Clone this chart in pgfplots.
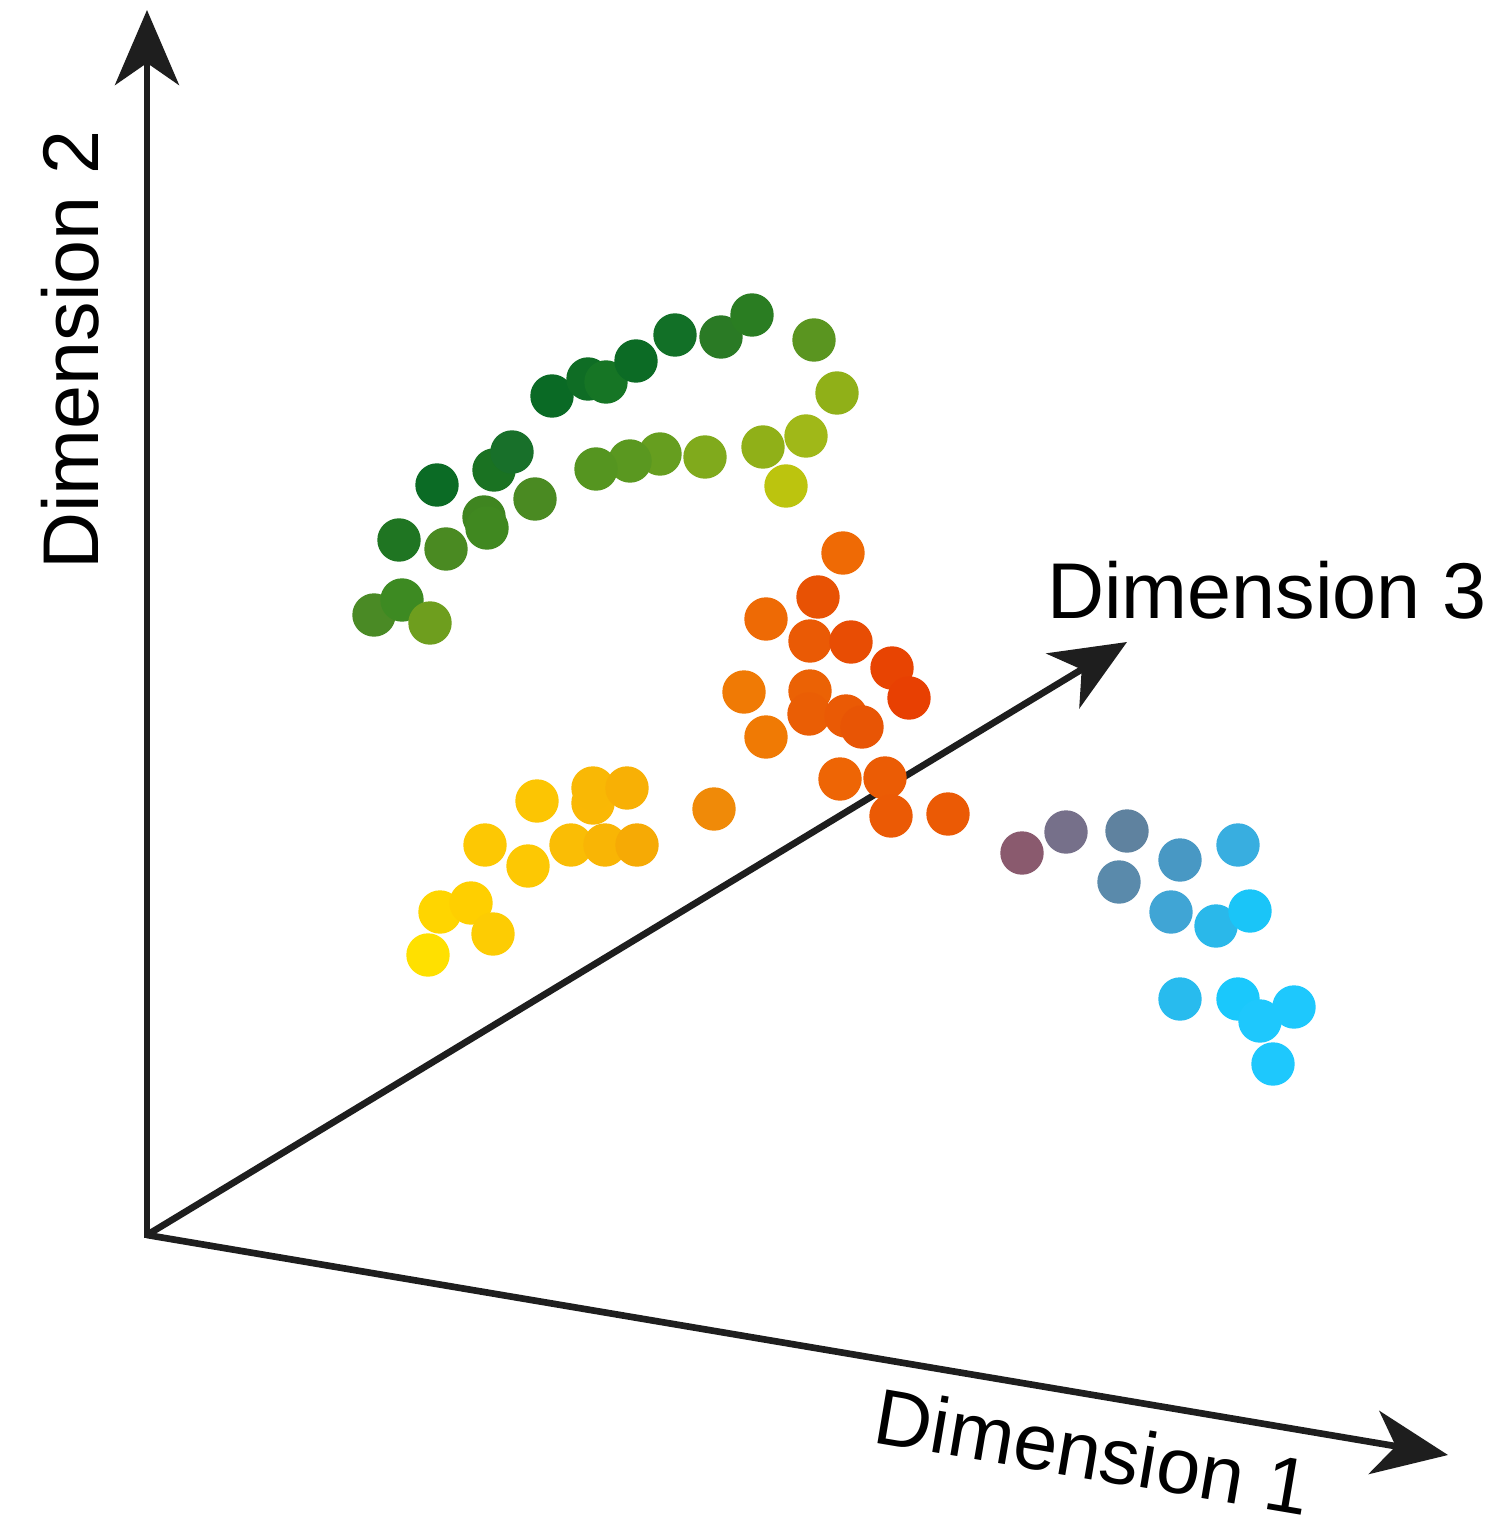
\documentclass[border=0pt]{standalone}
\usepackage{fontspec}
\setmainfont{Liberation Sans}
\usepackage{pgfplots}
\usepackage{pgfplotstable}
\pgfplotsset{compat=1.18}
\usetikzlibrary{arrows.meta}
\definecolor{axdark}{RGB}{30,30,30}
% x y in pixel coordinates (y downward); c = position of the dot's colour in the colour list
\pgfplotstableread{
x y c
374 615 0
402 600 1
430 623 2
399 540 3
446 549 4
437 485 5
484 517 6
487 528 7
535 499 8
494 470 9
512 452 10
552 396 11
588 379 12
606 382 13
636 361 14
675 335 15
721 337 16
752 315 17
814 340 18
837 393 19
806 436 20
763 447 21
786 486 22
705 457 23
660 454 24
630 461 25
596 469 26
}\greens
\pgfplotstableread{
x y c
537 801 27
593 803 28
593 788 29
627 788 30
485 845 31
571 845 32
605 845 33
637 845 34
528 866 35
440 912 36
471 903 37
493 934 38
428 955 39
}\yellows
\pgfplotstableread{
x y c
843 553 40
818 597 41
766 619 42
810 641 43
851 642 44
892 668 45
909 698 46
744 692 47
810 691 48
809 714 49
846 716 50
862 727 51
766 737 52
840 779 53
885 778 54
891 816 55
948 814 56
714 809 57
}\oranges
\pgfplotstableread{
x y c
1022 853 58
1066 832 59
1127 831 60
1119 882 61
1180 860 62
1238 845 63
1171 912 64
1216 926 65
1250 911 66
1180 999 67
1238 999 68
1260 1021 69
1294 1007 70
1273 1064 71
}\blues
\pgfplotsset{
  dots/.style={scatter, only marks, mark=*, mark size=2.1mm,
    point meta=explicit,
    scatter/use mapped color={draw=mapped color, fill=mapped color}},
  dimarrow/.style={line width=1.9pt, color=axdark, -{Stealth[length=7.5mm,width=6.4mm,inset=2.2mm]}}
}
\begin{document}
\begin{tikzpicture}
\begin{axis}[
  scale only axis, width=150.3mm, height=153mm,
  xmin=0, xmax=1503, ymin=0, ymax=1530, y dir=reverse,
  axis lines=none, clip=false,
  point meta min=0, point meta max=71,
  colormap={dotcols}{
    rgb255=(74,138,37) rgb255=(61,138,34) rgb255=(110,158,30) rgb255=(31,117,34)
    rgb255=(74,138,34) rgb255=(11,107,37) rgb255=(63,133,32) rgb255=(64,136,32)
    rgb255=(74,138,34) rgb255=(26,114,34) rgb255=(24,112,42) rgb255=(10,106,37)
    rgb255=(15,109,37) rgb255=(22,117,37) rgb255=(12,107,37) rgb255=(18,112,39)
    rgb255=(42,122,37) rgb255=(42,125,34) rgb255=(90,149,32) rgb255=(144,176,24)
    rgb255=(160,184,24) rgb255=(144,176,24) rgb255=(188,196,14) rgb255=(128,170,28)
    rgb255=(102,158,31) rgb255=(90,152,32) rgb255=(85,149,32)
    rgb255=(252,197,3) rgb255=(250,184,5) rgb255=(249,184,5) rgb255=(248,176,5)
    rgb255=(253,200,3) rgb255=(250,189,5) rgb255=(249,181,5) rgb255=(246,170,5)
    rgb255=(253,200,3) rgb255=(255,213,0) rgb255=(255,207,0) rgb255=(253,204,3)
    rgb255=(255,224,0)
    rgb255=(239,106,5) rgb255=(232,82,4) rgb255=(238,106,5) rgb255=(234,90,5)
    rgb255=(232,77,4) rgb255=(232,68,2) rgb255=(232,64,2) rgb255=(240,122,5)
    rgb255=(235,98,5) rgb255=(234,94,5) rgb255=(234,90,5) rgb255=(232,85,5)
    rgb255=(240,122,4) rgb255=(238,101,5) rgb255=(235,92,5) rgb255=(235,90,5)
    rgb255=(235,90,5) rgb255=(240,138,8)
    rgb255=(138,90,110) rgb255=(118,112,138) rgb255=(95,130,159) rgb255=(90,138,171)
    rgb255=(72,152,196) rgb255=(56,174,224) rgb255=(64,165,213) rgb255=(42,184,234)
    rgb255=(26,197,248) rgb255=(40,187,238) rgb255=(26,200,252) rgb255=(30,200,253)
    rgb255=(30,200,253) rgb255=(30,200,253)
  },
]
\addplot[dimarrow] coordinates {(147,1238) (147,10)};
\addplot[dimarrow] coordinates {(147,1235) (1448,1455)};
\addplot[dimarrow] coordinates {(147,1235) (1127,642)};
\addplot[dots] table[x=x,y=y,meta=c] {\greens};
\addplot[dots] table[x=x,y=y,meta=c] {\yellows};
\addplot[dots] table[x=x,y=y,meta=c] {\oranges};
\addplot[dots] table[x=x,y=y,meta=c] {\blues};
\node[rotate=90, font=\fontsize{22.5}{27}\selectfont] at (axis cs:70,350) {Dimension 2};
\node[font=\fontsize{22.5}{27}\selectfont] at (axis cs:1267,590) {Dimension 3};
\node[rotate=-9.6, font=\fontsize{22.5}{27}\selectfont] at (axis cs:1093,1451) {Dimension 1};
\end{axis}
\pgfresetboundingbox
\path[use as bounding box] (0,0) rectangle (150.3mm,153mm);
\end{tikzpicture}
\end{document}
